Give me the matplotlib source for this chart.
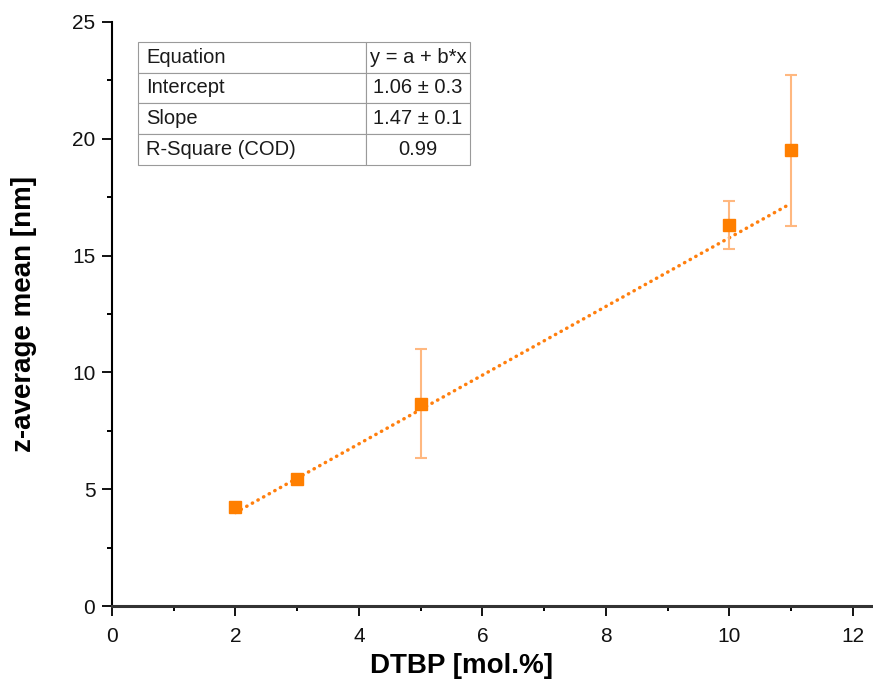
import matplotlib
matplotlib.use("Agg")
import matplotlib.pyplot as plt
from matplotlib.ticker import MultipleLocator

plt.rcParams['font.family'] = ['Liberation Sans', 'DejaVu Sans']

# Measured particle size vs initiator content
dtbp = [2, 3, 5, 10, 11]
z_mean = [4.24, 5.44, 8.65, 16.3, 19.5]
z_err = [0.0, 0.0, 2.33, 1.03, 3.23]

# Linear fit parameters
intercept = 1.06
slope = 1.47
fit_table = [
    ["Equation", "y = a + b*x"],
    ["Intercept", "1.06 \u00b1 0.3"],
    ["Slope", "1.47 \u00b1 0.1"],
    ["R-Square (COD)", "0.99"],
]

fig = plt.figure(figsize=(8.73, 6.84), dpi=100)
ax = fig.add_axes([0.1283, 0.114, 0.8697, 0.854])

# fitted line
fx = [min(dtbp), max(dtbp)]
fy = [intercept + slope * v for v in fx]
ax.plot(fx, fy, linestyle=(0, (0.1, 1.75)), color="#FF7F0E", linewidth=2.5,
        dash_capstyle='round', zorder=2)

ax.errorbar(dtbp, z_mean, yerr=z_err, fmt='none', ecolor="#FFB880",
            elinewidth=1.5, capsize=4.2, capthick=1.5, zorder=3)
ax.plot(dtbp, z_mean, linestyle='none', marker='s', markersize=8.5,
        color="#FF7F00", zorder=4)

ax.set_xlim(0, 12.3)
ax.set_ylim(0, 25)
ax.xaxis.set_major_locator(MultipleLocator(2))
ax.xaxis.set_minor_locator(MultipleLocator(1))
ax.yaxis.set_major_locator(MultipleLocator(5))
ax.yaxis.set_minor_locator(MultipleLocator(2.5))
ax.tick_params(which='major', direction='out', length=7, width=1.4,
               labelsize=15, colors='#111111')
ax.tick_params(which='minor', direction='out', length=3.5, width=1.4)
ax.tick_params(axis='x', pad=8)
ax.tick_params(axis='y', pad=5)
for s in ['top', 'right']:
    ax.spines[s].set_visible(False)
ax.spines['left'].set_linewidth(1.5)
ax.spines['bottom'].set_linewidth(2.2)
ax.spines['bottom'].set_color('#333333')

ax.set_xlabel("DTBP [mol.%]", fontsize=20, fontweight='bold', labelpad=5, x=0.46)
ax.set_ylabel("z-average mean [nm]", fontsize=20, fontweight='bold', labelpad=25)

tbl = ax.table(cellText=fit_table, bbox=[0.0342, 0.755, 0.437, 0.211],
               colWidths=[0.687, 0.313], cellLoc='left')
tbl.auto_set_font_size(False)
tbl.set_fontsize(14.5)
for (r, c), cell in tbl.get_celld().items():
    cell.set_edgecolor('#9a9a9a')
    cell.set_linewidth(0.8)
    cell.PAD = 0.035
    if c == 1:
        cell.get_text().set_ha('center')
        cell._loc = 'center'
    cell.get_text().set_color('#1a1a1a')

fig.savefig("out.png", dpi=100)
